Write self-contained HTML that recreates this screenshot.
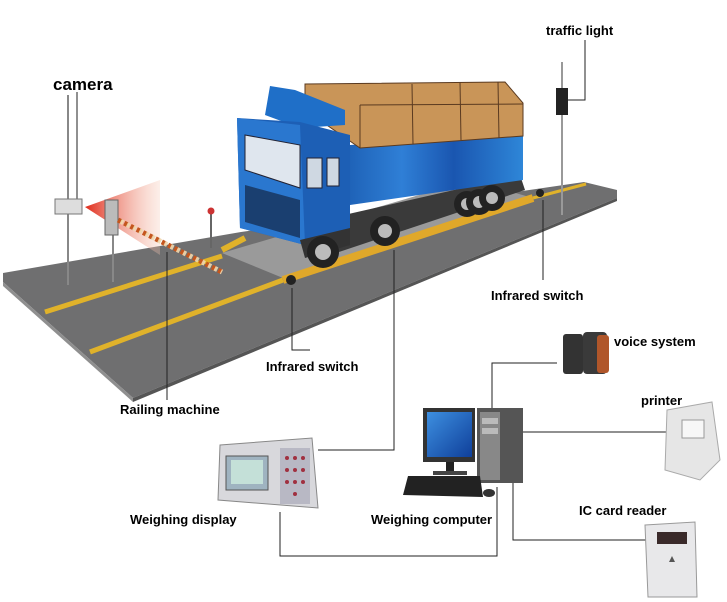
<!DOCTYPE html>
<html><head><meta charset="utf-8"><style>
body{margin:0;background:#fff}
svg{display:block}
text{font-family:"Liberation Sans",Arial,sans-serif;font-weight:bold;fill:#000}
</style></head><body>
<svg width="727" height="602" viewBox="0 0 727 602" xmlns="http://www.w3.org/2000/svg">
<defs>
<linearGradient id="cone" x1="0" x2="1"><stop offset="0" stop-color="#e02a1a"/><stop offset="1" stop-color="#f6c9b5" stop-opacity="0.3"/></linearGradient>
<linearGradient id="blue" x1="0" x2="1"><stop offset="0" stop-color="#1f63b8"/><stop offset="0.3" stop-color="#2f7fd6"/><stop offset="0.6" stop-color="#1a56b0"/><stop offset="1" stop-color="#2e86d8"/></linearGradient>
<linearGradient id="scr" x1="0" y1="0" x2="1" y2="1"><stop offset="0" stop-color="#3d8fe0"/><stop offset="1" stop-color="#0f3f9a"/></linearGradient>
</defs>
<!-- road -->
<polygon points="3,273 241,232 584,182 617,190 617,198 133,398 3,282" fill="#6f6f70"/>
<polygon points="3,282 133,398 133,402 3,286" fill="#8f8f8f"/>
<polygon points="133,398 617,198 617,201 133,402" fill="#555"/>
<!-- scale platform -->
<polygon points="222,253 283,278 533,198 470,180" fill="#9a9a9a"/>
<!-- yellow lines -->
<polyline points="45,312 222,256" stroke="#e0b22a" stroke-width="5" fill="none"/>
<polyline points="90,352 283,280" stroke="#e0b22a" stroke-width="5" fill="none"/>
<polyline points="283,280 533,198" stroke="#e0a82a" stroke-width="8" fill="none"/>
<polyline points="533,198 586,184" stroke="#e0b22a" stroke-width="3" fill="none"/>
<polyline points="222,250 245,238" stroke="#e0b22a" stroke-width="6" fill="none"/>
<!-- truck chassis -->
<polygon points="300,225 520,175 525,190 330,255" fill="#3a3a3a"/>
<circle cx="467" cy="204" r="13" fill="#222"/><circle cx="467" cy="204" r="6" fill="#bbb"/>
<circle cx="479" cy="202" r="13" fill="#222"/><circle cx="479" cy="202" r="6" fill="#bbb"/>
<circle cx="492" cy="198" r="13" fill="#222"/><circle cx="492" cy="198" r="6" fill="#bbb"/>
<!-- cargo -->
<polygon points="350,145 523,135 523,180 350,205" fill="url(#blue)"/>
<polygon points="305,84 505,82 523,103 523,136 360,148 305,110" fill="#c99558" stroke="#5a3a20" stroke-width="1"/>
<polyline points="360,105 523,104" stroke="#5a3a20" fill="none"/>
<line x1="360" y1="105" x2="360" y2="148" stroke="#5a3a20"/>
<line x1="412" y1="84" x2="413" y2="144" stroke="#5a3a20"/>
<line x1="460" y1="82" x2="461" y2="140" stroke="#5a3a20"/>
<line x1="498" y1="82" x2="499" y2="138" stroke="#5a3a20"/>
<!-- cab -->
<polygon points="270,86 295,90 345,110 345,125 300,128 265,115" fill="#1f6fc8"/>
<polygon points="237,118 300,122 350,135 350,232 305,245 240,228" fill="#1d5fb5"/>
<polygon points="237,118 300,125 305,245 240,228" fill="#2a77cf"/>
<polygon points="245,135 300,145 300,188 245,170" fill="#dfe6ee" stroke="#223" />
<rect x="307" y="158" width="15" height="30" fill="#cfd8e2" stroke="#223"/>
<rect x="327" y="158" width="12" height="28" fill="#cfd8e2" stroke="#223"/>
<polygon points="245,185 300,200 300,238 245,222" fill="#1a3f70"/>
<polygon points="300,240 350,228 350,245 305,258" fill="#333"/>
<circle cx="323" cy="252" r="16" fill="#222"/><circle cx="323" cy="252" r="8" fill="#bbb"/>
<circle cx="385" cy="231" r="15" fill="#222"/><circle cx="385" cy="231" r="7" fill="#bbb"/>
<!-- camera -->
<line x1="68" y1="95" x2="68" y2="285" stroke="#888" stroke-width="2"/>
<line x1="77" y1="92" x2="77" y2="205" stroke="#222" stroke-width="1"/>
<polygon points="85,207 160,180 160,255" fill="url(#cone)"/>
<rect x="55" y="199" width="27" height="15" fill="#ddd" stroke="#777"/>
<!-- railing machine -->
<line x1="113" y1="210" x2="113" y2="282" stroke="#888" stroke-width="2"/>
<rect x="105" y="200" width="13" height="35" fill="#bbb" stroke="#666"/>
<line x1="118" y1="220" x2="222" y2="272" stroke="#c4561e" stroke-width="5" stroke-dasharray="4,3"/>
<line x1="118" y1="220" x2="222" y2="272" stroke="#f0d9b0" stroke-width="5" stroke-dasharray="3,4" stroke-dashoffset="4" opacity="0.9"/>
<line x1="167" y1="252" x2="167" y2="400" stroke="#222"/>
<line x1="211" y1="212" x2="211" y2="248" stroke="#666" stroke-width="2"/>
<circle cx="211" cy="211" r="3.5" fill="#c33"/>
<!-- infrared left -->
<circle cx="291" cy="280" r="5" fill="#222"/>
<polyline points="292,288 292,350 310,350" stroke="#222" fill="none"/>
<!-- infrared right -->
<circle cx="540" cy="193" r="4" fill="#222"/>
<line x1="543" y1="200" x2="543" y2="280" stroke="#222"/>
<!-- traffic light -->
<line x1="562" y1="62" x2="562" y2="215" stroke="#999" stroke-width="2"/>
<rect x="556" y="88" width="12" height="27" fill="#222"/>
<polyline points="585,40 585,100 568,100" stroke="#222" fill="none"/>
<!-- scale line -->
<polyline points="394,250 394,450 318,450" stroke="#222" fill="none"/>
<!-- computer connections -->
<polyline points="492,408 492,363 557,363" stroke="#222" fill="none"/>
<line x1="523" y1="432" x2="670" y2="432" stroke="#222"/>
<polyline points="513,477 513,540 650,540" stroke="#222" fill="none"/>
<polyline points="497,487 497,556 280,556 280,512" stroke="#222" fill="none"/>
<!-- weighing display -->
<polygon points="220,445 312,438 318,508 218,500" fill="#d8d8dc" stroke="#888"/>
<rect x="226" y="456" width="42" height="34" fill="#9fb3c0" stroke="#555"/>
<rect x="231" y="460" width="32" height="24" fill="#c4e0d8"/>
<rect x="280" y="448" width="30" height="56" fill="#b8b8c4"/>
<g fill="#a03040"><circle cx="287" cy="458" r="2"/><circle cx="295" cy="458" r="2"/><circle cx="303" cy="458" r="2"/><circle cx="287" cy="470" r="2"/><circle cx="295" cy="470" r="2"/><circle cx="303" cy="470" r="2"/><circle cx="287" cy="482" r="2"/><circle cx="295" cy="482" r="2"/><circle cx="303" cy="482" r="2"/><circle cx="295" cy="494" r="2"/></g>
<!-- computer -->
<rect x="423" y="408" width="52" height="54" fill="#333"/>
<rect x="427" y="412" width="45" height="45" fill="url(#scr)"/>
<rect x="446" y="462" width="8" height="11" fill="#222"/>
<rect x="433" y="471" width="34" height="4" fill="#444"/>
<rect x="477" y="408" width="46" height="75" fill="#555"/>
<rect x="480" y="412" width="20" height="68" fill="#888"/>
<rect x="482" y="418" width="16" height="6" fill="#bbb"/>
<rect x="482" y="428" width="16" height="6" fill="#bbb"/>
<polygon points="408,476 480,476 483,497 403,495" fill="#222"/>
<ellipse cx="489" cy="493" rx="6" ry="4" fill="#333"/>
<!-- speakers -->
<rect x="563" y="334" width="20" height="40" rx="3" fill="#333"/>
<rect x="583" y="332" width="24" height="42" rx="4" fill="#3a3a3a"/>
<rect x="597" y="335" width="12" height="38" rx="3" fill="#b0562a"/>
<!-- printer -->
<polygon points="667,410 712,402 720,460 700,480 665,470" fill="#e6e6e6" stroke="#aaa"/>
<rect x="682" y="420" width="22" height="18" fill="#f7f7f7" stroke="#999"/>
<!-- IC reader -->
<polygon points="645,525 695,522 697,597 648,597" fill="#e8e8ea" stroke="#999"/>
<rect x="657" y="532" width="30" height="12" fill="#3a2a2a"/>
<polygon points="669,562 672,556 675,562" fill="#555"/>
<!-- labels -->
<text x="53" y="90" font-size="17">camera</text>
<text x="546" y="35" font-size="13">traffic light</text>
<text x="491" y="300" font-size="13">Infrared switch</text>
<text x="266" y="371" font-size="13">Infrared switch</text>
<text x="120" y="414" font-size="13">Railing machine</text>
<text x="614" y="346" font-size="13">voice system</text>
<text x="641" y="405" font-size="13">printer</text>
<text x="579" y="515" font-size="13">IC card reader</text>
<text x="130" y="524" font-size="13">Weighing display</text>
<text x="371" y="524" font-size="13">Weighing computer</text>
</svg>
</body></html>
